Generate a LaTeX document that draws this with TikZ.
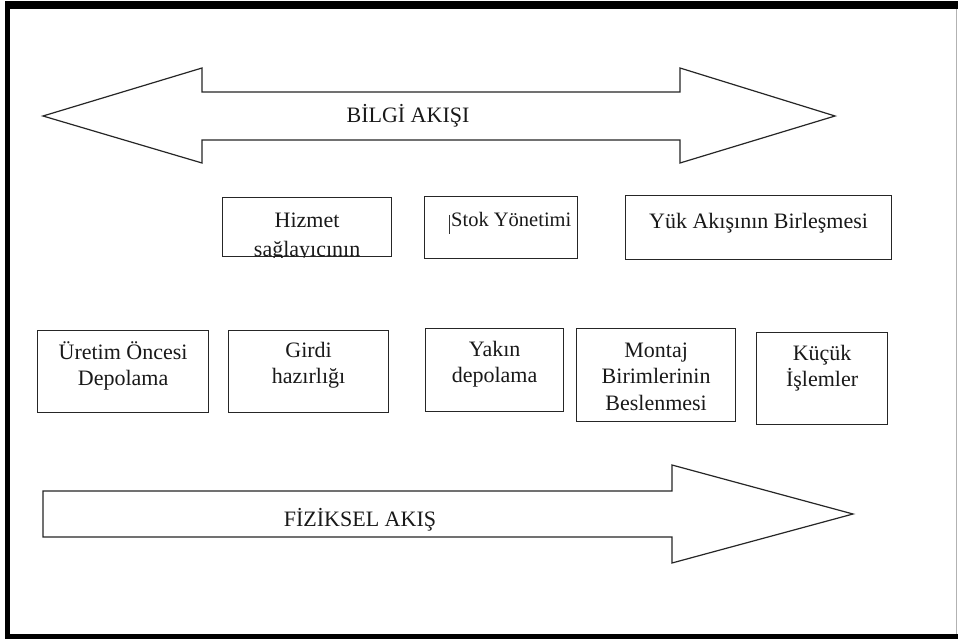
\documentclass[tikz,border=0pt]{standalone}
\usepackage{fontspec}
\setmainfont{Liberation Serif}
\usetikzlibrary{calc}
\newcommand\lnstrut{\rule{0pt}{21pt}}
\begin{document}
\begin{tikzpicture}[x=1pt,y=-1pt,
  outline/.style={draw=black!85,line width=1.2pt,line join=miter},
  box/.style={outline,rectangle,inner sep=0pt,anchor=north west},
  lbl/.style={inner sep=0pt,align=center,font={\fontsize{22}{26.5}\selectfont},text=black!90},
  flow/.style={inner sep=0pt,font={\fontsize{22}{26}\selectfont},text=black!90}]
\useasboundingbox (0,0) rectangle (958,639);
\fill[white] (0,0) rectangle (958,639);

% frame
\fill[black] (5,1) rectangle (958,9);
\fill[black] (5,1) rectangle (10,639);
\fill[black] (5,634) rectangle (958,639);
\draw[black!30,line width=0.8pt] (956.5,9) -- (956.5,634);

% information flow (double arrow)
\draw[outline] (43,116) -- (202,68) -- (202,92) -- (680,92) -- (680,68) -- (835,116)
  -- (680,163) -- (680,140) -- (202,140) -- (202,163) -- cycle;
\node[flow,anchor=base] (bilgi) at (408,123) {BİLGİ AKIŞI};

% upper row
\node[box,minimum width=169pt,minimum height=59pt] (hz) at (222,197) {};
\node[box,minimum width=153pt,minimum height=62pt] (st) at (424,196) {};
\node[box,minimum width=266pt,minimum height=64pt] (yk) at (625,195) {};

\begin{scope}
  \clip (hz.north west) rectangle (hz.south east);
  \node[lbl,anchor=north] (hzt) at ($(hz.north)+(0,9)$) {\lnstrut Hizmet\\[3pt]sağlayıcının};
\end{scope}
\node[lbl,anchor=north west,font={\fontsize{20.5}{25}\selectfont}] (stt) at (451,205) {\lnstrut Stok Yönetimi};
\draw[black!80,line width=0.8pt] (449,215) -- (449,234);
\node[lbl,anchor=north] (ykt) at ($(yk.north)+(0,12)$) {\lnstrut Yük Akışının Birleşmesi};

% lower row
\node[box,minimum width=171pt,minimum height=82pt] (ur) at (37,330) {};
\node[box,minimum width=160pt,minimum height=82pt] (gi) at (228,330) {};
\node[box,minimum width=138pt,minimum height=83pt] (ya) at (425,328) {};
\node[box,minimum width=159pt,minimum height=93pt] (mo) at (576,328) {};
\node[box,minimum width=131pt,minimum height=92pt] (ku) at (756,332) {};

\node[lbl,anchor=north] (urt) at ($(ur.north)+(0,8)$) {\lnstrut Üretim Öncesi\\Depolama};
\node[lbl,anchor=north] (git) at ($(gi.north)+(0,6)$) {\lnstrut Girdi\\hazırlığı};
\node[lbl,anchor=north] (yat) at ($(ya.north)+(0,7)$) {\lnstrut Yakın\\depolama};
\node[lbl,anchor=north] (mot) at ($(mo.north)+(0,8)$) {\lnstrut Montaj\\Birimlerinin\\Beslenmesi};
\node[lbl,anchor=north] (kut) at ($(ku.north)+(0,7)$) {\lnstrut Küçük\\İşlemler};

% physical flow (single arrow)
\draw[outline] (43,491) -- (672,491) -- (672,465) -- (853,514) -- (672,563)
  -- (672,537) -- (43,537) -- cycle;
\node[flow,anchor=base] (fiz) at (360,526) {FİZİKSEL AKIŞ};
\end{tikzpicture}
\end{document}
